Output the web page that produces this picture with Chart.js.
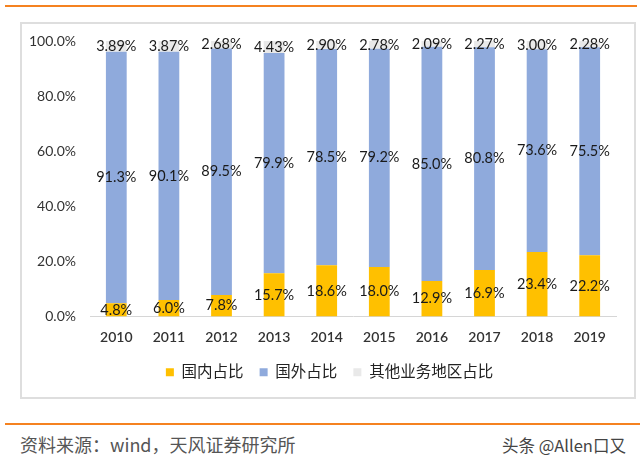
<!DOCTYPE html>
<html><head><meta charset="utf-8">
<script src="https://cdn.jsdelivr.net/npm/chart.js@4/dist/chart.umd.min.js"></script>
<style>
html,body{margin:0;padding:0;background:#fff;width:640px;height:468px;overflow:hidden;}
.line{position:absolute;height:2px;background:#F58220;}
#box{position:absolute;left:20px;top:22px;width:612px;height:373px;border:2px solid #DEDEDE;}
#src{position:absolute;left:20px;top:431px;font:18px 'Noto Sans CJK SC',sans-serif;color:#555;white-space:nowrap;}
#wm{position:absolute;left:502px;top:433px;font:16.5px 'Noto Sans CJK SC',sans-serif;color:#444;white-space:nowrap;}
canvas{display:block;}
</style></head>
<body>
<div class="line" style="left:5px;top:5px;width:632px;"></div>
<div id="box"><canvas id="c" width="612" height="373"></canvas></div>
<div class="line" style="left:5px;top:423px;width:635px;"></div>
<div id="src">资料来源：wind，天风证券研究所</div>
<div id="wm">头条 @Allen口又</div>
<script>
const categories = ['2010','2011','2012','2013','2014','2015','2016','2017','2018','2019'];
const domestic = [4.8, 6.0, 7.8, 15.7, 18.6, 18.0, 12.9, 16.9, 23.4, 22.2];
const overseas = [91.3, 90.1, 89.5, 79.9, 78.5, 79.2, 85.0, 80.8, 73.6, 75.5];
const others = [3.89, 3.87, 2.68, 4.43, 2.90, 2.78, 2.09, 2.27, 3.00, 2.28];
const seriesNames = ['国内占比', '国外占比', '其他业务地区占比'];
const labelDecimals = [1, 1, 2];
const yTicks = [0, 20, 40, 60, 80, 100];

const FONT = "Lato, 'Noto Sans CJK SC', sans-serif";

const labelPlugin = {
  id: 'barLabels',
  afterDatasetsDraw(chart) {
    const ctx = chart.ctx;
    ctx.save();
    ctx.font = '14.5px ' + FONT;
    ctx.fillStyle = '#1a1a1a';
    ctx.textAlign = 'center';
    ctx.textBaseline = 'middle';
    chart.data.datasets.forEach((ds, i) => {
      const meta = chart.getDatasetMeta(i);
      meta.data.forEach((el, j) => {
        const v = ds.data[j];
        const y = (el.y + el.base) / 2;
        ctx.fillText(v.toFixed(labelDecimals[i]) + '%', el.x, y);
      });
    });
    ctx.restore();
  }
};

new Chart(document.getElementById('c'), {
  type: 'bar',
  data: {
    labels: categories,
    datasets: [
      {label: seriesNames[0], data: domestic, backgroundColor: '#FFC000'},
      {label: seriesNames[1], data: overseas, backgroundColor: '#8FAADC'},
      {label: seriesNames[2], data: others, backgroundColor: '#E9E9E9'}
    ]
  },
  options: {
    responsive: false,
    animation: false,
    layout: {padding: {left: 3, right: 0, top: 17, bottom: 7}},
    datasets: {bar: {barPercentage: 0.5, categoryPercentage: 0.79}},
    plugins: {
      tooltip: {enabled: false},
      legend: {
        position: 'bottom',
        labels: {boxWidth: 8, boxHeight: 8, padding: 16, color: '#222', font: {size: 15.5, family: FONT}}
      }
    },
    scales: {
      x: {
        stacked: true,
        grid: {display: false, drawTicks: false},
        border: {display: true, color: '#D6D6D6', width: 1},
        ticks: {color: '#333', padding: 13, font: {size: 14, weight: '600', family: FONT}},
        afterFit(s) { s.height = 32; s.paddingLeft = 0; s.paddingRight = 18; }
      },
      y: {
        stacked: true,
        min: 0, max: 100,
        grid: {display: false, drawTicks: false},
        border: {display: false},
        afterBuildTicks(s) { s.ticks = yTicks.map(v => ({value: v})); },
        ticks: {color: '#333', padding: 14, font: {size: 14, family: FONT},
          callback: v => v.toFixed(1) + '%'},
        afterFit(s) { s.width = 65; s.paddingTop = 0; s.paddingBottom = 0; }
      }
    }
  },
  plugins: [labelPlugin]
});
</script>
</body></html>
